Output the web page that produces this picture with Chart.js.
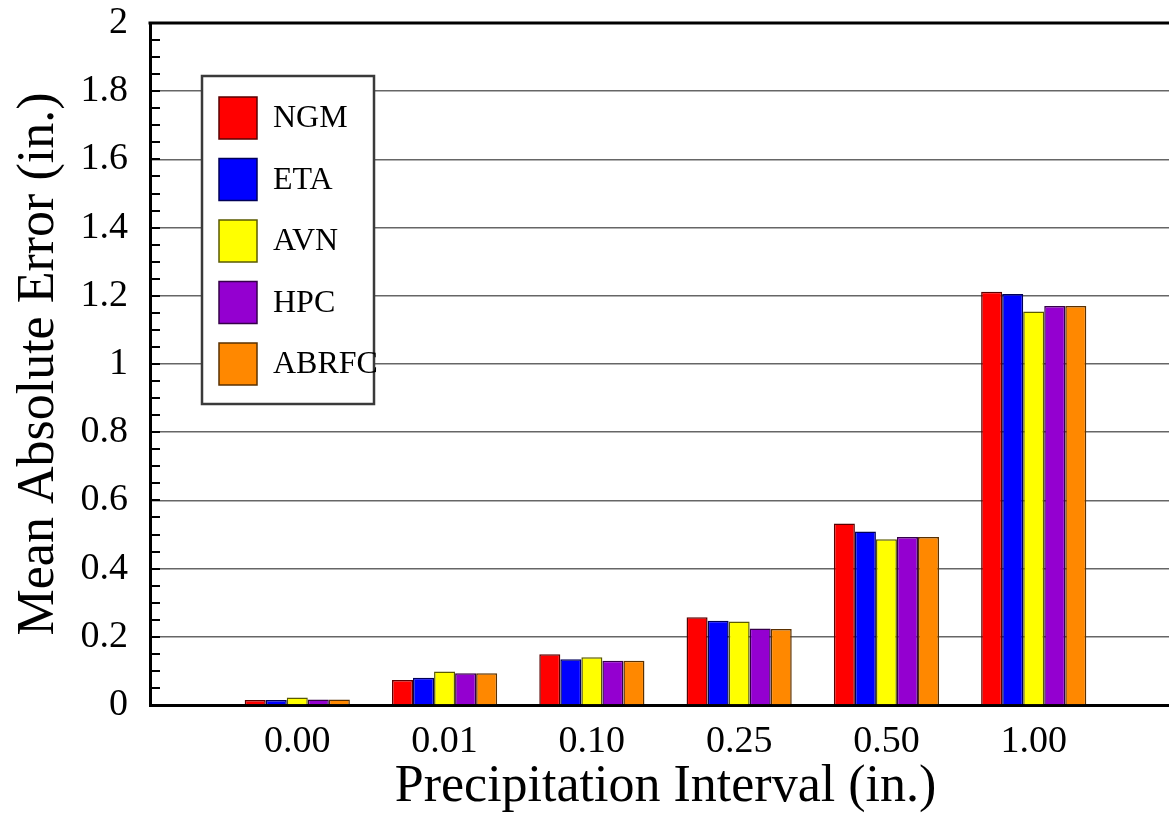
<!DOCTYPE html>
<html>
<head>
<meta charset="utf-8">
<script src="https://cdn.jsdelivr.net/npm/chart.js@4.4.1/dist/chart.umd.min.js"></script>
<style>
  html, body { margin: 0; padding: 0; background: #fff; overflow: hidden; }
  #wrap { width: 1195px; height: 813px; }
</style>
</head>
<body>
<div id="wrap"><canvas id="chart" width="1195" height="813"></canvas></div>
<script>
// precipitation intervals (blank slots pad the axis on both ends)
const intervals = ["", "0.00", "0.01", "0.10", "0.25", "0.50", "1.00", ""];

// mean absolute error per model (in.)
const ngm   = [null, 0.015, 0.073, 0.149, 0.257, 0.532, 1.212, null];
const eta   = [null, 0.015, 0.080, 0.134, 0.247, 0.509, 1.205, null];
const avn   = [null, 0.022, 0.098, 0.140, 0.245, 0.486, 1.154, null];
const hpc   = [null, 0.016, 0.093, 0.130, 0.224, 0.493, 1.170, null];
const abrfc = [null, 0.016, 0.093, 0.130, 0.223, 0.493, 1.170, null];

const models = ["NGM", "ETA", "AVN", "HPC", "ABRFC"];
const colors = ["#ff0000", "#0000ff", "#ffff00", "#9400d0", "#ff8800"];
const edges  = ["#5a0000", "#00005a", "#5a5a00", "#35004a", "#5a3000"];

const serif = "'Liberation Serif', 'DejaVu Serif', serif";

// minor ticks, top frame line and the boxed legend
const frame = {
  id: "frame",
  afterDatasetsDraw(chart) {
    const ctx = chart.ctx;
    const area = chart.chartArea;
    const y = chart.scales.y;
    ctx.save();
    ctx.strokeStyle = "#000";
    ctx.lineWidth = 2;
    for (let i = 1; i < 40; i++) {
      const py = Math.round(y.getPixelForValue(i / 20));
      ctx.beginPath();
      ctx.moveTo(area.left, py);
      ctx.lineTo(area.left + 10, py);
      ctx.stroke();
    }
    ctx.lineWidth = 3;
    ctx.beginPath();
    ctx.moveTo(area.left - 1.5, area.top);
    ctx.lineTo(area.right, area.top);
    ctx.stroke();
    ctx.restore();
  },
  afterDraw(chart) {
    const ctx = chart.ctx;
    const area = chart.chartArea;
    const bx = area.left + 52, by = area.top + 53, bw = 172, bh = 328;
    ctx.save();
    ctx.fillStyle = "#fff";
    ctx.fillRect(bx, by, bw, bh);
    ctx.strokeStyle = "#3a3a3a";
    ctx.lineWidth = 2.5;
    ctx.strokeRect(bx, by, bw, bh);
    ctx.font = "32px " + serif;
    ctx.textBaseline = "middle";
    chart.data.datasets.forEach((ds, i) => {
      const top = by + 21 + i * 61.5;
      ctx.fillStyle = ds.backgroundColor;
      ctx.fillRect(bx + 17, top, 38, 42);
      ctx.strokeStyle = ds.borderColor;
      ctx.lineWidth = 1.5;
      ctx.strokeRect(bx + 17, top, 38, 42);
      ctx.fillStyle = "#000";
      ctx.fillText(ds.label, bx + 71, top + 22);
    });
    ctx.restore();
  }
};

const series = [ngm, eta, avn, hpc, abrfc];

new Chart(document.getElementById("chart"), {
  type: "bar",
  data: {
    labels: intervals,
    datasets: series.map((values, i) => ({
      label: models[i],
      data: values,
      backgroundColor: colors[i],
      borderColor: edges[i],
      borderWidth: 1.5,
      categoryPercentage: 0.714,
      barPercentage: 1.0
    }))
  },
  options: {
    responsive: false,
    animation: false,
    layout: { padding: { top: 23, left: 0, right: 0, bottom: 0 } },
    plugins: {
      legend: { display: false },
      tooltip: { enabled: false }
    },
    scales: {
      x: {
        offset: false,
        afterFit(scale) { scale.height = 108; },
        grid: { display: true, drawOnChartArea: false, drawTicks: false },
        border: { display: true, color: "#000", width: 3 },
        ticks: {
          color: "#000",
          padding: 14,
          maxRotation: 0,
          autoSkip: false,
          font: { family: serif, size: 38 }
        },
        title: {
          display: true,
          text: "Precipitation Interval (in.)",
          color: "#000",
          font: { family: serif, size: 52, lineHeight: 1.0 },
          padding: { top: 0, bottom: 0 }
        }
      },
      y: {
        min: 0,
        max: 2,
        afterFit(scale) {
          scale.width = 150;
          scale.paddingTop = 0;
          scale.paddingBottom = 0;
        },
        grid: { color: "#666", lineWidth: 1.6, drawTicks: false },
        border: { display: true, color: "#000", width: 3 },
        ticks: {
          stepSize: 0.2,
          color: "#000",
          padding: 22,
          font: { family: serif, size: 38 },
          callback: v => String(Number(v.toFixed(1)))
        },
        title: {
          display: true,
          text: "Mean Absolute Error (in.)",
          color: "#000",
          font: { family: serif, size: 52, lineHeight: 1.0 },
          padding: { top: 13, bottom: 0 }
        }
      }
    }
  },
  plugins: [frame]
});
</script>
</body>
</html>
